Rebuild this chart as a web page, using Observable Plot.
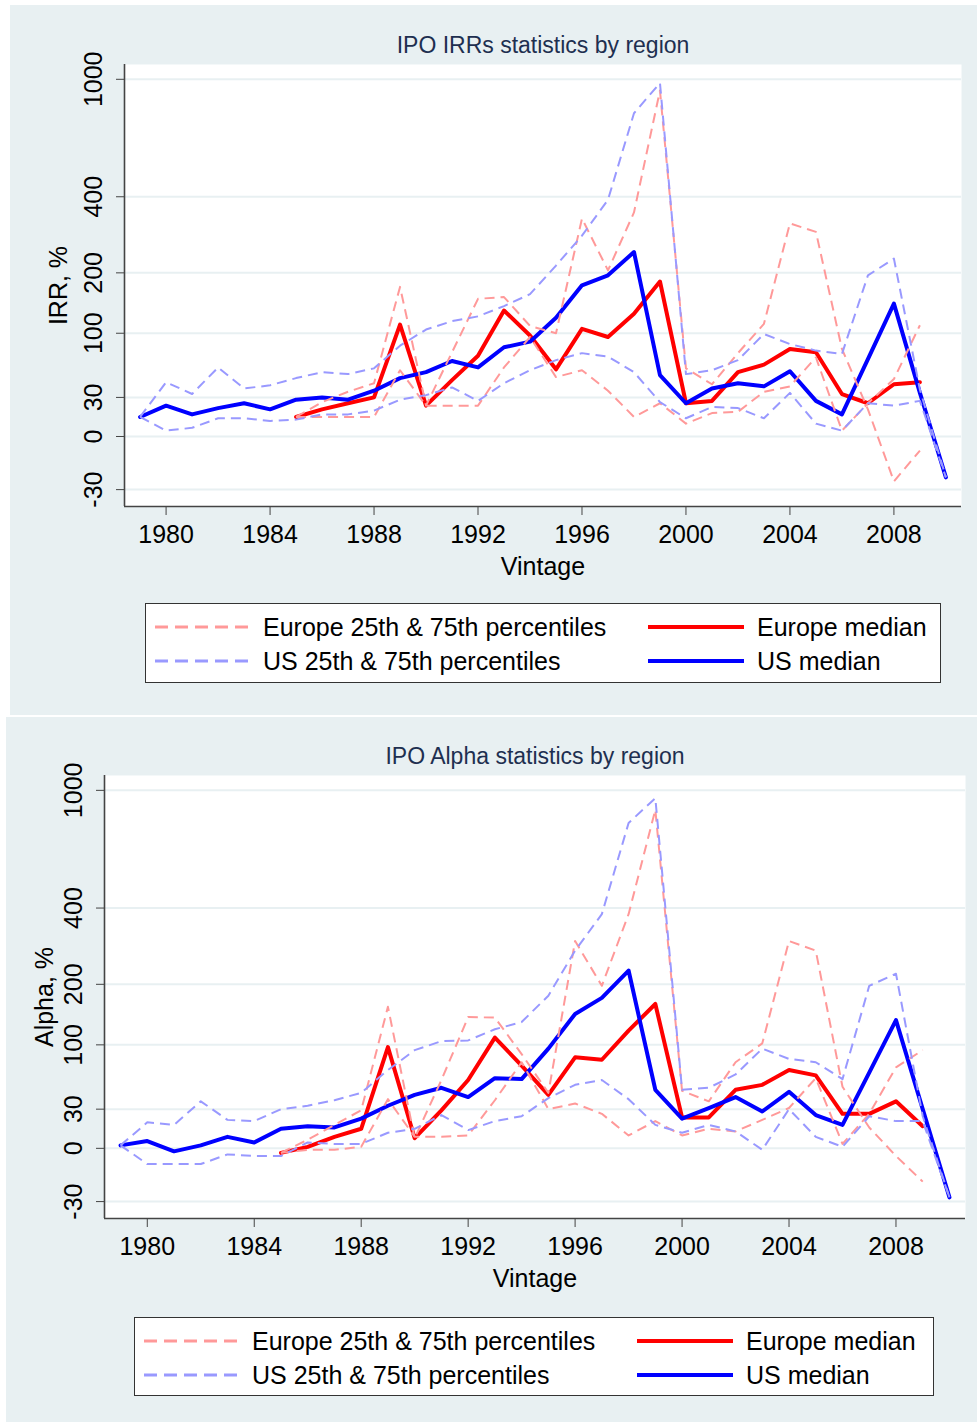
<!DOCTYPE html>
<html>
<head>
<meta charset="utf-8">
<script src="https://cdn.jsdelivr.net/npm/d3@7"></script>
<script src="https://cdn.jsdelivr.net/npm/@observablehq/plot@0.6"></script>
<style>
html, body { margin: 0; padding: 0; background: #ffffff; }
body { width: 977px; height: 1422px; position: relative; overflow: hidden; font-family: "Liberation Sans", Arial, sans-serif; }
.panel { position: absolute; background: #e8f0f2; }
.panel > svg { position: absolute; left: 0; top: 0; }
.legend { position: absolute; background: #ffffff; border: 1.5px solid #333; box-sizing: border-box; }
.legend .lab { position: absolute; font-size: 25px; line-height: 25px; color: #000; white-space: nowrap; }
.legend svg { position: absolute; }
</style>
</head>
<body>
<div id="p1" class="panel" style="left:10px;top:5px;width:967px;height:710px"></div>
<div id="p2" class="panel" style="left:6px;top:717px;width:971px;height:705px"></div>
<script>
// ---------------- data ----------------
const usYears = [1979,1980,1981,1982,1983,1984,1985,1986,1987,1988,1989,1990,1991,1992,1993,1994,1995,1996,1997,1998,1999,2000,2001,2002,2003,2004,2005,2006,2007,2008,2009,2010];
const euYears = [1985,1986,1987,1988,1989,1990,1991,1992,1993,1994,1995,1996,1997,1998,1999,2000,2001,2002,2003,2004,2005,2006,2007,2008,2009];

// IRR panel (%)
const irrUsMedian = [14,23,16,21,25,20,28,30,28,36,48,54,66,59,82,89,122,176,195,245,51,25,38,43,40,55,27,16,68,144,34,-24];
const irrUsP75    = [14,44,33,59,38,41,48,54,52,58,84,105,117,124,140,160,215,285,390,776,973,52,56,67,99,86,78,74,195,230,37,-24];
const irrUsP25    = [14,4,6,13,13,11,12,16,16,19,28,32,39,27,43,56,67,75,71,54,26,13,22,21,13,34,9,4,25,23,27,-24];
const irrEuMedian = [14,20,25,30,112,23,46,72,133,97,57,106,95,128,183,25,27,54,62,80,76,33,25,42,44];
const irrEuP75    = [14,26,35,43,173,23,76,152,155,110,100,332,205,350,920,58,42,75,113,318,295,80,20,-26,-9];
const irrEuP25    = [14,14,14,14,56,23,23,23,59,95,49,56,36,14,25,9,17,18,35,40,70,4,25,47,111];

// Alpha panel (%)
const alUsMedian = [2,5,-2,2,8,4,14,16,15,22,33,43,50,41,60,59,95,146,174,229,48,22,31,41,28,46,25,17,66,136,30,-28];
const alUsP75    = [2,19,17,37,21,20,30,33,38,45,69,93,105,106,122,133,178,276,380,784,944,48,50,64,95,82,78,59,197,222,24,-28];
const alUsP25    = [2,-10,-10,-10,-4,-5,-5,4,3,3,11,14,25,13,20,24,40,53,58,39,17,11,17,12,-1,30,8,1,24,20,20,-28];
const alEuMedian = [-3,1,8,14,97,7,29,58,110,74,43,84,81,120,163,23,23,48,53,69,63,26,26,37,16];
const alEuP75    = [-3,6,17,29,158,7,58,141,140,88,45,301,197,380,866,47,37,78,102,301,276,51,15,-5,-20];
const alEuP25    = [-3,-1,-1,1,39,8,8,9,38,78,30,35,26,9,20,9,14,12,21,31,60,3,26,72,93];

const xTicks = [1980,1984,1988,1992,1996,2000,2004,2008];
const yTicks = [-30,0,30,100,200,400,1000];
const legendLabels = ["Europe 25th & 75th percentiles","Europe median","US 25th & 75th percentiles","US median"];

// ---------------- style ----------------
const RED = "#ff0000", BLUE = "#0000ff", RED_L = "#ff9999", BLUE_L = "#9999ff";
const BG = "#e8f0f2", AXIS = "#444444", TITLE = "#1e2f50";
const FONT = '"Liberation Sans", Arial, sans-serif';
const SHIFT = 100;               // axis is log(100 + value)
const X_DOMAIN = [1978.4, 2010.6];
const Y_DOMAIN = [62.5, 1215];

function rows(years, vals) { return years.map((yr, i) => ({year: yr, v: vals[i]})); }

function makePlot(cfg) {
  const yv = d => d.v + SHIFT;
  const dashed = {strokeWidth: 2, strokeDasharray: "10,6", strokeLinecap: "butt", strokeLinejoin: "round"};
  const solid = {strokeWidth: 4, strokeLinecap: "round", strokeLinejoin: "round"};
  return Plot.plot({
    width: cfg.width, height: cfg.height,
    marginLeft: cfg.ml, marginRight: cfg.mr, marginTop: cfg.mt, marginBottom: cfg.mb,
    style: {background: "transparent", fontFamily: FONT, color: "#000"},
    x: {domain: X_DOMAIN},
    y: {type: "log", domain: Y_DOMAIN},
    marks: [
      Plot.frame({fill: "white", stroke: "none"}),
      Plot.gridY(yTicks.map(v => v + SHIFT), {stroke: BG, strokeOpacity: 1, strokeWidth: 2}),
      Plot.ruleX([X_DOMAIN[0]], {stroke: AXIS, strokeWidth: 1.6}),
      Plot.ruleY([Y_DOMAIN[0]], {stroke: AXIS, strokeWidth: 1.6}),
      Plot.axisX({ticks: xTicks, tickFormat: d => String(d), tickSize: 9, tickPadding: 10, fontSize: 25, label: null, stroke: AXIS, fill: "#000"}),
      Plot.axisY({ticks: yTicks.map(v => v + SHIFT), tickFormat: () => "", tickSize: 8, label: null, stroke: AXIS}),
      Plot.text(yTicks, {y: d => d + SHIFT, text: d => String(d), frameAnchor: "left", rotate: -90, dx: -31, textAnchor: "middle", lineAnchor: "middle", fontSize: 25, fill: "#000"}),
      Plot.text([cfg.yLabel], {frameAnchor: "left", rotate: -90, dx: cfg.yLabelDx, textAnchor: "middle", lineAnchor: "middle", fontSize: 25, fill: "#000"}),
      Plot.text(["Vintage"], {frameAnchor: "bottom", dy: 60, textAnchor: "middle", lineAnchor: "middle", fontSize: 25, fill: "#000"}),
      Plot.text([cfg.title], {frameAnchor: "top", dy: -19, textAnchor: "middle", lineAnchor: "middle", fontSize: 23, fill: TITLE}),
      Plot.line(rows(euYears, cfg.euMed), {x: "year", y: yv, stroke: RED, ...solid}),
      Plot.line(rows(usYears, cfg.usMed), {x: "year", y: yv, stroke: BLUE, ...solid}),
      Plot.line(rows(euYears, cfg.euP25), {x: "year", y: yv, stroke: RED_L, ...dashed}),
      Plot.line(rows(euYears, cfg.euP75), {x: "year", y: yv, stroke: RED_L, ...dashed}),
      Plot.line(rows(usYears, cfg.usP25), {x: "year", y: yv, stroke: BLUE_L, ...dashed}),
      Plot.line(rows(usYears, cfg.usP75), {x: "year", y: yv, stroke: BLUE_L, ...dashed})
    ]
  });
}

function sample(color, dashed) {
  const ns = "http://www.w3.org/2000/svg";
  const s = document.createElementNS(ns, "svg");
  s.setAttribute("width", 96); s.setAttribute("height", 10);
  const l = document.createElementNS(ns, "line");
  l.setAttribute("x1", 0); l.setAttribute("x2", 96); l.setAttribute("y1", 5); l.setAttribute("y2", 5);
  l.setAttribute("stroke", color);
  l.setAttribute("stroke-width", dashed ? 3 : 4);
  if (dashed) l.setAttribute("stroke-dasharray", "13,7");
  s.appendChild(l);
  return s;
}

function makeLegend(panel, box) {
  const lg = document.createElement("div");
  lg.className = "legend";
  Object.assign(lg.style, {left: box.left + "px", top: box.top + "px", width: box.w + "px", height: box.h + "px"});
  const items = [
    {label: legendLabels[0], color: RED_L, dashed: true, col: 0, row: 0},
    {label: legendLabels[1], color: RED, dashed: false, col: 1, row: 0},
    {label: legendLabels[2], color: BLUE_L, dashed: true, col: 0, row: 1},
    {label: legendLabels[3], color: BLUE, dashed: false, col: 1, row: 1}
  ];
  const rowsY = [23, 57];
  const sampleX = [9, 502], textX = [117, 611];
  for (const it of items) {
    const s = sample(it.color, it.dashed);
    s.style.left = sampleX[it.col] + "px";
    s.style.top = (rowsY[it.row] - 5) + "px";
    lg.appendChild(s);
    const t = document.createElement("div");
    t.className = "lab";
    t.textContent = it.label;
    t.style.left = textX[it.col] + "px";
    t.style.top = (rowsY[it.row] - 12) + "px";
    lg.appendChild(t);
  }
  panel.appendChild(lg);
}

const p1 = document.getElementById("p1");
p1.appendChild(makePlot({
  width: 967, height: 600, ml: 114, mr: 16, mt: 59, mb: 99,
  title: "IPO IRRs statistics by region", yLabel: "IRR, %", yLabelDx: -66,
  usMed: irrUsMedian, usP25: irrUsP25, usP75: irrUsP75,
  euMed: irrEuMedian, euP25: irrEuP25, euP75: irrEuP75
}));
makeLegend(p1, {left: 135, top: 598, w: 796, h: 80});

const p2 = document.getElementById("p2");
p2.appendChild(makePlot({
  width: 971, height: 600, ml: 98, mr: 12, mt: 58, mb: 99,
  title: "IPO Alpha statistics by region", yLabel: "Alpha, %", yLabelDx: -60,
  usMed: alUsMedian, usP25: alUsP25, usP75: alUsP75,
  euMed: alEuMedian, euP25: alEuP25, euP75: alEuP75
}));
makeLegend(p2, {left: 128, top: 600, w: 800, h: 79});
</script>
</body>
</html>
